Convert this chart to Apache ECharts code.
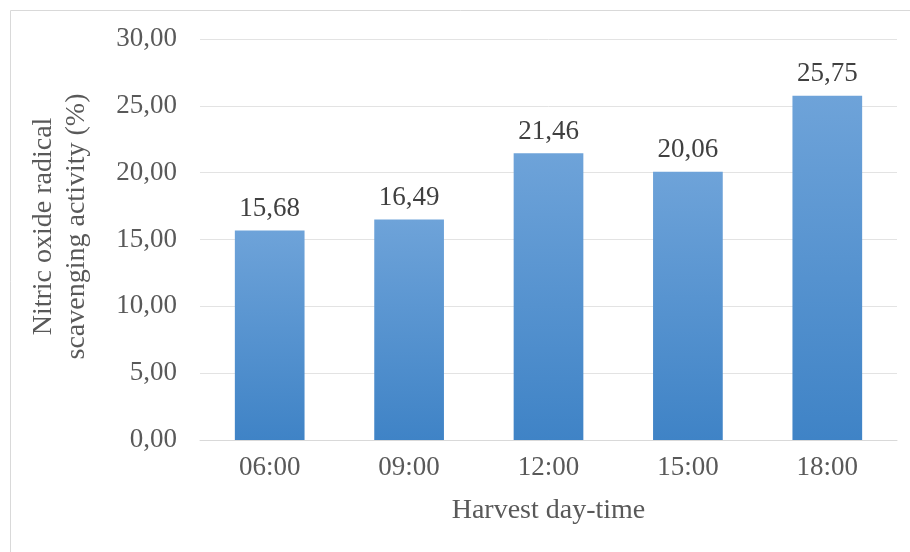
<!DOCTYPE html>
<html><head><meta charset="utf-8">
<script src="https://cdn.jsdelivr.net/npm/echarts@6/dist/echarts.min.js"></script>
<style>html,body{margin:0;padding:0;background:#fff}#c{width:910px;height:552px}</style>
</head><body><div id="c"></div>
<script>
const categories = ['06:00','09:00','12:00','15:00','18:00'];
const values = [15.68, 16.49, 21.46, 20.06, 25.75];
const yTicks = {min: 0, max: 30, interval: 5};
const yName = 'Nitric oxide radical\nscavenging activity (%)';
const xName = 'Harvest day-time';

const fmt = v => v.toFixed(2).replace('.', ',');
const chart = echarts.init(document.getElementById('c'));
chart.setOption({
  animation: false,
  textStyle: {fontFamily: 'Liberation Serif'},
  graphic: [{type: 'rect', shape: {x: 10.5, y: 10.5, width: 905, height: 545},
    style: {fill: 'none', stroke: '#d9d9d9', lineWidth: 1}, silent: true}],
  grid: {left: 200, right: 13, top: 39, bottom: 112, containLabel: false, outerBoundsMode: 'none'},
  xAxis: {
    type: 'category', data: categories,
    axisLine: {lineStyle: {color: '#d9d9d9', width: 1}},
    axisTick: {show: false},
    axisLabel: {color: '#595959', fontSize: 27, margin: 14, fontFamily: 'Liberation Serif'},
    name: xName, nameLocation: 'middle', nameGap: 57,
    nameTextStyle: {color: '#595959', fontSize: 28, fontFamily: 'Liberation Serif'}
  },
  yAxis: {
    type: 'value', min: yTicks.min, max: yTicks.max, interval: yTicks.interval,
    axisLine: {show: false}, axisTick: {show: false},
    splitLine: {lineStyle: {color: '#e3e3e3', width: 1}},
    axisLabel: {color: '#595959', fontSize: 27, margin: 23, formatter: fmt, fontFamily: 'Liberation Serif'},
    name: yName, nameLocation: 'middle', nameGap: 107, nameRotate: 90,
    nameTextStyle: {color: '#595959', fontSize: 28, lineHeight: 33, fontFamily: 'Liberation Serif',
      align: 'center', padding: [0, 0, 0, 26]}
  },
  series: [{
    type: 'bar', data: values, barWidth: '50%',
    itemStyle: {color: new echarts.graphic.LinearGradient(0, 0, 0, 1, [
      {offset: 0, color: '#6ea3d9'}, {offset: 1, color: '#3f83c6'}])},
    label: {show: true, position: 'top', distance: 8, color: '#404040', fontSize: 27,
      fontFamily: 'Liberation Serif', formatter: p => fmt(p.value)}
  }]
});
</script></body></html>
